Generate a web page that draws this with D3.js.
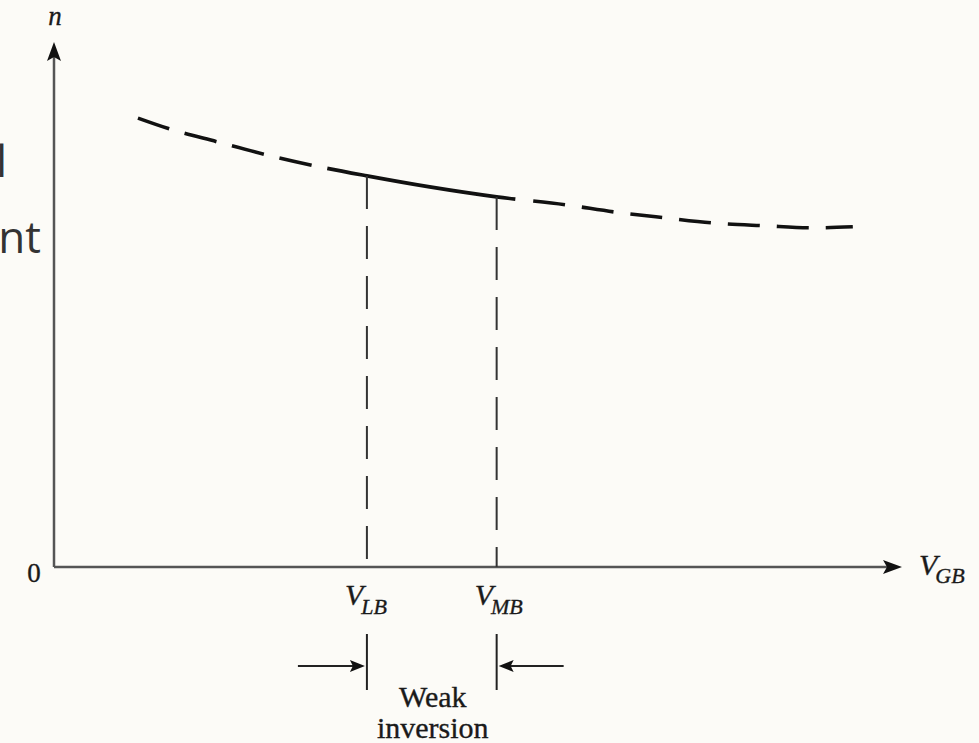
<!DOCTYPE html>
<html>
<head>
<meta charset="utf-8">
<script src="https://cdn.jsdelivr.net/npm/d3@7"></script>
<style>
  html, body { margin: 0; padding: 0; background: #fcfbf7; }
  svg { display: block; }
  .serif { font-family: "Liberation Serif", "Times New Roman", serif; fill: #1a1a1a; stroke: #1a1a1a; stroke-width: 0.35px; }
</style>
</head>
<body>
<svg id="chart" width="979" height="743"></svg>
<script>
// ---- data (arbitrary units) ----
const curveX = [0.99, 1.37, 1.92, 2.51, 3.08, 3.69, 4.43, 5.22, 6.03, 6.62, 7.21, 7.79, 8.38, 8.97, 9.42];
const curveN = [8.55, 8.34, 8.10, 7.85, 7.64, 7.45, 7.24, 7.05, 6.90, 6.76, 6.65, 6.55, 6.50, 6.46, 6.48];
const markerNames = ["LB", "MB"];
const markerX = [3.69, 5.22];
const solidEnd = 5.44;
const xDomain = [0, 10];
const yDomain = [0, 10];
const yZeroLabel = "0";
const yAxisLabel = "n";
const xAxisLabelMain = "V";
const xAxisLabelSub = "GB";
const regionLines = ["Weak", "inversion"];
const cutText = ["l", "nt"];

const svg = d3.select("#chart");

const x = d3.scaleLinear().domain(xDomain).range([54, 902]);
const y = d3.scaleLinear().domain(yDomain).range([567, 42]);

const pts = curveX.map((v, i) => [v, curveN[i]]);
const line = d3.line().x(d => x(d[0])).y(d => y(d[1])).curve(d3.curveMonotoneX);

// cut-off page text at left edge (partly outside the picture in the reference)
svg.append("text").attr("x", 7).attr("y", 177).attr("text-anchor", "end")
  .attr("font-family", "Open Sans").attr("font-size", 44).attr("fill", "#333").text(cutText[0]);
svg.append("text").attr("x", 41).attr("y", 253).attr("text-anchor", "end")
  .attr("font-family", "Open Sans").attr("font-size", 44).attr("fill", "#333").text(cutText[1]);

// axes
const axisColor = "#555";
svg.append("line").attr("x1", x(0)).attr("x2", x(0)).attr("y1", y(0)).attr("y2", y(yDomain[1]) + 14)
  .attr("stroke", axisColor).attr("stroke-width", 2.5);
svg.append("line").attr("x1", x(0)).attr("x2", x(xDomain[1]) - 14).attr("y1", y(0)).attr("y2", y(0))
  .attr("stroke", axisColor).attr("stroke-width", 2.5);
const yTip = [x(0), y(yDomain[1])];
svg.append("path").attr("d", `M${yTip[0]},${yTip[1]} L${yTip[0]-7},${yTip[1]+19} L${yTip[0]},${yTip[1]+15} L${yTip[0]+7},${yTip[1]+19} Z`).attr("fill", "#111");
const xTip = [x(xDomain[1]), y(0)];
svg.append("path").attr("d", `M${xTip[0]},${xTip[1]} L${xTip[0]-19},${xTip[1]-7} L${xTip[0]-15},${xTip[1]} L${xTip[0]-19},${xTip[1]+7} Z`).attr("fill", "#111");

// axis labels
svg.append("text").attr("class", "serif").attr("x", x(0) + 1).attr("y", 25).attr("text-anchor", "middle")
  .attr("font-style", "italic").attr("font-size", 27).text(yAxisLabel);
svg.append("text").attr("class", "serif").attr("x", x(0) - 20).attr("y", 582).attr("text-anchor", "middle")
  .attr("font-size", 27).text(yZeroLabel);
const xl = svg.append("text").attr("class", "serif").attr("x", 919).attr("y", 575).attr("font-style", "italic");
xl.append("tspan").attr("font-size", 30).text(xAxisLabelMain);
xl.append("tspan").attr("font-size", 22).attr("dx", -2).attr("dy", 8).text(xAxisLabelSub);

// curve
const curvePath = svg.append("path").datum(pts).attr("d", line)
  .attr("fill", "none").attr("stroke", "#111").attr("stroke-width", 3.6);
const node = curvePath.node();
const T = node.getTotalLength();
function lenAt(px) {
  let lo = 0, hi = T;
  for (let i = 0; i < 40; i++) {
    const mid = (lo + hi) / 2;
    if (node.getPointAtLength(mid).x < px) lo = mid; else hi = mid;
  }
  return (lo + hi) / 2;
}
const L1 = lenAt(x(markerX[0]));
const L2 = lenAt(x(solidEnd));
const dashArr = [];
let pos = 0;
while (pos + 33 + 16 + 20 < L1) { dashArr.push(33, 16); pos += 49; }
dashArr.push(L2 - pos, 18);
pos = L2 + 18;
while (pos < T) { dashArr.push(32, 17); pos += 49; }
curvePath.attr("stroke-dasharray", dashArr.join(","));

// vertical dashed markers, labels, bound ticks
markerX.forEach((mx, i) => {
  const pt = node.getPointAtLength(lenAt(x(mx)));
  svg.append("line").attr("x1", x(mx)).attr("x2", x(mx)).attr("y1", pt.y).attr("y2", y(0))
    .attr("stroke", "#333").attr("stroke-width", 2).attr("stroke-dasharray", "33,17");
  const t = svg.append("text").attr("class", "serif").attr("x", x(mx) - 22).attr("y", 605).attr("font-style", "italic");
  t.append("tspan").attr("font-size", 30).text("V");
  t.append("tspan").attr("font-size", 22).attr("dx", -2).attr("dy", 9).text(markerNames[i]);
  svg.append("line").attr("x1", x(mx)).attr("x2", x(mx)).attr("y1", 634).attr("y2", 690)
    .attr("stroke", "#222").attr("stroke-width", 2);
});

// arrows pointing at weak-inversion bounds
const ay = 666;
const lx = x(markerX[0]), rx = x(markerX[1]);
svg.append("line").attr("x1", lx - 69).attr("x2", lx - 12).attr("y1", ay).attr("y2", ay).attr("stroke", "#222").attr("stroke-width", 2);
svg.append("path").attr("d", `M${lx-2},${ay} L${lx-17},${ay-6} L${lx-14},${ay} L${lx-17},${ay+6} Z`).attr("fill", "#111");
svg.append("line").attr("x1", rx + 67).attr("x2", rx + 12).attr("y1", ay).attr("y2", ay).attr("stroke", "#222").attr("stroke-width", 2);
svg.append("path").attr("d", `M${rx+2},${ay} L${rx+17},${ay-6} L${rx+14},${ay} L${rx+17},${ay+6} Z`).attr("fill", "#111");

// region label
const cx = (lx + rx) / 2 + 1;
regionLines.forEach((s, i) => {
  svg.append("text").attr("class", "serif").attr("x", cx).attr("y", 707 + i * 31).attr("text-anchor", "middle")
    .attr("font-size", 30).text(s);
});
</script>
</body>
</html>
